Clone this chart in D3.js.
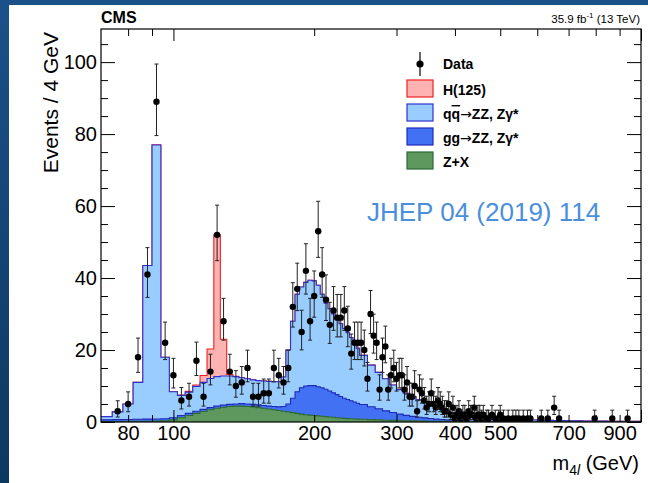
<!DOCTYPE html>
<html>
<head>
<meta charset="utf-8">
<style>
  body { margin: 0; }
  svg { display: block; font-family: "Liberation Sans", Arial, sans-serif; }
</style>
</head>
<body>
<svg width="648" height="483"></svg>
<script src="https://d3js.org/d3.v7.min.js"></script>
<script>
// bin edges (GeV): 4 GeV bins up to 250, then coarser bins, values are events / 4 GeV
var binEdges = [70,74,78,82,86,90,94,98,102,106,110,114,118,122,126,130,134,138,142,146,
  150,154,158,162,166,170,174,178,182,186,190,194,198,202,206,210,214,218,222,226,
  230,234,238,242,246,250,
  260,270,280,290,300,310,320,330,340,350,360,370,380,390,400,410,420,430,440,450,
  460,470,480,490,500,
  550,600,650,700,750,800,850,900,950,1000];

var zxValues = [.15,.15,.2,.2,.2,.25,.3,.6,1.2,1.8,2.4,2.9,3.4,3.8,4.1,4.3,4.4,4.4,4.3,4.2,
  4.0,3.8,3.6,3.4,3.2,3.0,2.8,2.6,2.4,2.2,2.0,1.9,1.8,1.7,1.6,1.5,1.4,1.3,1.2,1.1,
  1.0,.95,.9,.85,.8,
  .75,.65,.6,.5,.45,.4,.35,.3,.28,.25,.22,.2,.18,.16,.15,.13,.12,.11,.1,.09,.08,.08,.07,.07,.06,
  .05,.04,.03,.03,.02,.02,.02,.01,.01,.01];

var ggValues = [.45,.5,.5,.55,.6,.6,.6,.6,.6,.6,.6,.6,.6,.6,.6,.6,.6,.7,.7,.7,
  .8,.8,.8,.9,1.0,1.3,2.2,4.0,6.0,7.3,8.0,8.2,8.3,8.1,7.9,7.6,7.2,6.8,6.4,6.0,
  5.6,5.3,5.0,4.7,4.4,
  4.1,3.6,3.1,2.6,2.2,1.8,1.5,1.25,1.05,.9,.75,.6,.5,.42,.36,.3,.26,.22,.19,.16,.14,.12,.11,.1,.09,
  .08,.06,.05,.04,.04,.03,.03,.03,.02,.02];

var qqValues = [.9,2.15,4.3,10.25,42.7,76.1,17.1,7.2,5.6,5.9,6.9,7.5,8.1,8.2,8.1,7.9,7.6,7.2,7.0,6.8,
  6.7,6.8,6.9,6.9,7.0,8.2,15.0,21.4,27.1,28.0,28.8,29.3,29.1,28.2,26.0,23.9,22.9,21.9,20.9,20.2,
  19.4,18.55,17.6,16.45,15.3,
  13.65,11.55,10.1,8.9,7.65,6.8,6.15,5.45,4.87,4.25,3.73,3.2,2.82,2.42,2.09,1.87,1.62,1.47,1.31,1.2,
  1.08,1.0,.92,.83,.75,
  .62,.45,.37,.31,.26,.23,.19,.17,.16,.14];

var higgsValues = [0,0,0,0,0,.05,0,.05,.1,.2,.4,1.9,8.2,39.4,10.2,.4,.1,0,0,0,
  0,0,0,0,0,0,0,0,0,0,0,0,0,0,0,0,0,0,0,0,
  0,0,0,0,0,
  0,0,0,0,0,0,0,0,0,0,0,0,0,0,0,0,0,0,0,0,0,0,0,0,0,
  0,0,0,0,0,0,0,0,0,0];

var dataMass = [76,80,84,88,92,96,100,104,108,112,116,120,124,128,132,136,140,144,148,152,
  156,160,164,168,172,176,180,184,188,192,196,200,204,208,212,216,220,224,228,232,
  236,240,244,248,252,256,260,264,268,272,276,280,284,288,292,296,300,304,308,312,
  316,320,324,328,332,336,340,344,348,352,356,360,364,368,372,376,380,384,388,392,
  396,400,404,408,412,416,420,424,428,432,436,440,444,448,452,456,460,468,472,480,
  488,496,500,508,520,532,540,548,560,572,580,612,632,652,668,796,868,936];
var dataCount = [3,5,18,41,89,22,13,6,7,17,7,14,52,28,14,10,11,15,7,7,
  8,8,15,13,11,15,32,37,25,42,28,35,53,41,34,27,31,29,29,31,
  26,19,22,22,22,20,12,30,24,22,9,18,21,9,13,15,12,13,13,9,
  11,7,7,10,3,9,8,6,4,5,8,5,4,6,5,4,3,3,5,2,
  4,1,2,3,1,2,2,1,3,2,2,4,1,2,2,1,2,1,1,2,
  1,1,2,1,1,1,1,1,1,1,1,1,1,4,1,1,1,1];

var xTickValues = [80,90,100,200,300,400,500,600,700,800,900,1000];
var xTickLabels = [80,100,200,300,400,500,700,900];
var yTickValues = [0,20,40,60,80,100];
var yMinorValues = [5,10,15,25,30,35,45,50,55,65,70,75,85,90,95,105];

var svg = d3.select("svg");

// blue slide background with white panel
var defs = svg.append("defs");
var grad = defs.append("linearGradient").attr("id", "bg").attr("x1", 0).attr("y1", 0).attr("x2", 0).attr("y2", 1);
grad.append("stop").attr("offset", "0%").attr("stop-color", "#1b5189");
grad.append("stop").attr("offset", "100%").attr("stop-color", "#0d3860");
svg.append("rect").attr("width", 648).attr("height", 483).attr("fill", "url(#bg)");
svg.append("rect").attr("x", 9).attr("y", 5).attr("width", 639).attr("height", 478).attr("fill", "#fff");

var frame = {left: 101, right: 641, top: 29, bottom: 422};

var x = d3.scaleLog().domain([70, 1000]).range([frame.left, frame.right]);
var y = d3.scaleLinear().domain([0, 109.2]).range([frame.bottom, frame.top]);

defs.append("clipPath").attr("id", "plot")
  .append("rect")
  .attr("x", frame.left).attr("y", frame.top)
  .attr("width", frame.right - frame.left).attr("height", frame.bottom - frame.top);

var plot = svg.append("g").attr("clip-path", "url(#plot)");

// stacked histogram
var layers = [
  {name: "Z+X", values: zxValues, fill: "#5e985e", stroke: "#2e6a33"},
  {name: "gg", values: ggValues, fill: "#4271f4", stroke: "#1e2ab8"},
  {name: "qq", values: qqValues, fill: "#99ccff", stroke: "#3030cc"},
  {name: "H", values: higgsValues, fill: "#ffb2b2", stroke: "#ee2222"}
];
var running = zxValues.map(function() { return 0; });
layers.forEach(function(l) {
  running = running.map(function(r, i) { return r + l.values[i]; });
  l.cum = running.slice();
});

function stepPoints(cum) {
  return binEdges.map(function(e, i) { return [e, cum[Math.min(i, cum.length - 1)]]; });
}

var area = d3.area()
  .x(function(d) { return x(d[0]); })
  .y0(y(0))
  .y1(function(d) { return y(d[1]); })
  .curve(d3.curveStepAfter);

var line = d3.line()
  .x(function(d) { return x(d[0]); })
  .y(function(d) { return y(d[1]); })
  .curve(d3.curveStepAfter);

layers.slice().reverse().forEach(function(l) {
  var pts = stepPoints(l.cum);
  plot.append("path").datum(pts)
    .attr("fill", l.fill)
    .attr("d", area);
  plot.append("path").datum(pts)
    .attr("fill", "none")
    .attr("stroke", l.stroke)
    .attr("stroke-width", 1.1)
    .attr("d", line);
});

// data points with poisson error bars
function poissonLow(n) {
  if (n === 0) return 0;
  return n * Math.pow(1 - 1 / (9 * n) - 1 / (3 * Math.sqrt(n)), 3);
}
function poissonHigh(n) {
  var m = n + 1;
  return m * Math.pow(1 - 1 / (9 * m) + 1 / (3 * Math.sqrt(m)), 3);
}

var points = dataMass.map(function(m, i) { return {m: m, n: dataCount[i]}; });
var dataG = plot.append("g");
var pt = dataG.selectAll("g").data(points).enter().append("g");
pt.append("line")
  .attr("x1", function(d) { return x(d.m); })
  .attr("x2", function(d) { return x(d.m); })
  .attr("y1", function(d) { return y(poissonLow(d.n)); })
  .attr("y2", function(d) { return y(poissonHigh(d.n)); })
  .attr("stroke", "#222").attr("stroke-width", 1);
[poissonLow, poissonHigh].forEach(function(f) {
  pt.append("line")
    .attr("x1", function(d) { return x(d.m) - 2; })
    .attr("x2", function(d) { return x(d.m) + 2; })
    .attr("y1", function(d) { return y(f(d.n)); })
    .attr("y2", function(d) { return y(f(d.n)); })
    .attr("stroke", "#222").attr("stroke-width", 1);
});
pt.append("circle")
  .attr("cx", function(d) { return x(d.m); })
  .attr("cy", function(d) { return y(d.n); })
  .attr("r", 3.2)
  .attr("fill", "#000");

// axes
var fmt = function(d) { return xTickLabels.indexOf(d) >= 0 ? d : ""; };
var xBottom = svg.append("g")
  .attr("transform", "translate(0," + frame.bottom + ")")
  .call(d3.axisBottom(x).tickValues(xTickValues).tickFormat(fmt).tickSizeInner(-7).tickSizeOuter(0).tickPadding(4));
var xTop = svg.append("g")
  .attr("transform", "translate(0," + frame.top + ")")
  .call(d3.axisTop(x).tickValues(xTickValues).tickFormat("").tickSizeInner(-7).tickSizeOuter(0));
[xBottom, xTop].forEach(function(g, k) {
  g.select(".domain").remove();
  g.selectAll(".tick line")
    .attr("y2", function(d) { return (d === 100 || d === 1000 ? 12 : 7) * (k === 0 ? -1 : 1); });
});
xBottom.selectAll("text").attr("font-size", 20).attr("font-family", "Liberation Sans, Arial, sans-serif").attr("fill", "#000");

var yLeft = svg.append("g")
  .attr("transform", "translate(" + frame.left + ",0)")
  .call(d3.axisLeft(y).tickValues(yTickValues).tickSizeInner(-14).tickSizeOuter(0).tickPadding(4));
yLeft.selectAll("text").attr("font-size", 20).attr("font-family", "Liberation Sans, Arial, sans-serif").attr("fill", "#000");
var yLeftMinor = svg.append("g")
  .attr("transform", "translate(" + frame.left + ",0)")
  .call(d3.axisLeft(y).tickValues(yMinorValues).tickFormat("").tickSizeInner(-7).tickSizeOuter(0));
var yRight = svg.append("g")
  .attr("transform", "translate(" + frame.right + ",0)")
  .call(d3.axisRight(y).tickValues(yTickValues).tickFormat("").tickSizeInner(-14).tickSizeOuter(0));
var yRightMinor = svg.append("g")
  .attr("transform", "translate(" + frame.right + ",0)")
  .call(d3.axisRight(y).tickValues(yMinorValues).tickFormat("").tickSizeInner(-7).tickSizeOuter(0));
[yLeft, yLeftMinor, yRight, yRightMinor].forEach(function(g) { g.select(".domain").remove(); });

svg.append("rect")
  .attr("x", frame.left).attr("y", frame.top)
  .attr("width", frame.right - frame.left).attr("height", frame.bottom - frame.top)
  .attr("fill", "none").attr("stroke", "#000").attr("stroke-width", 1.2);

// titles
svg.append("text")
  .attr("transform", "translate(58,32) rotate(-90)")
  .attr("text-anchor", "end")
  .attr("font-size", 21)
  .text("Events / 4 GeV");

var xt = svg.append("text")
  .attr("x", 639).attr("y", 470)
  .attr("text-anchor", "end")
  .attr("font-size", 20);
xt.append("tspan").text("m");
xt.append("tspan").attr("font-size", 14).attr("dy", 5).text("4");
xt.append("tspan").attr("font-size", 14).attr("font-style", "italic").text("l");
xt.append("tspan").attr("dy", -5).text(" (GeV)");

svg.append("text")
  .attr("x", frame.left).attr("y", 23)
  .attr("font-size", 16).attr("font-weight", "bold")
  .text("CMS");

var lumi = svg.append("text")
  .attr("x", 640).attr("y", 23)
  .attr("text-anchor", "end")
  .attr("font-size", 11.5);
lumi.append("tspan").text("35.9 fb");
lumi.append("tspan").attr("font-size", 8).attr("dy", -5).text("-1");
lumi.append("tspan").attr("dy", 5).text(" (13 TeV)");

svg.append("text")
  .attr("x", 367).attr("y", 221)
  .attr("font-size", 26)
  .attr("fill", "#4a8fdc")
  .text("JHEP 04 (2019) 114");

// legend
var legend = svg.append("g").attr("font-size", 14).attr("font-weight", "bold");
legend.append("line").attr("x1", 420).attr("x2", 420).attr("y1", 52).attr("y2", 76)
  .attr("stroke", "#000").attr("stroke-width", 1.2);
legend.append("circle").attr("cx", 420).attr("cy", 64).attr("r", 3.6).attr("fill", "#000");
legend.append("text").attr("x", 443).attr("y", 69).text("Data");

var legendRows = layers.slice().reverse();
var arrow = "\u2192";
var legendLabels = {
  "H": [["H(125)"]],
  "qq": [["q"], ["q", "bar"], [arrow, "arrow"], ["ZZ, Z\u03b3*"]],
  "gg": [["gg"], [arrow, "arrow"], ["ZZ, Z\u03b3*"]],
  "Z+X": [["Z+X"]]
};
legendRows.forEach(function(l, i) {
  var yy = 80 + 24 * i;
  legend.append("rect")
    .attr("x", 407).attr("y", yy).attr("width", 26).attr("height", 17)
    .attr("fill", l.fill).attr("stroke", l.stroke).attr("stroke-width", 1.2);
  var t = legend.append("text").attr("x", 443).attr("y", yy + 15);
  legendLabels[l.name].forEach(function(p) {
    var s = t.append("tspan").text(p[0]);
    if (p[1] === "bar") s.style("text-decoration", "overline");
    if (p[1] === "arrow") s.attr("font-family", "DejaVu Sans").attr("font-weight", "normal").attr("font-size", 14);
  });
});
</script>
</body>
</html>
